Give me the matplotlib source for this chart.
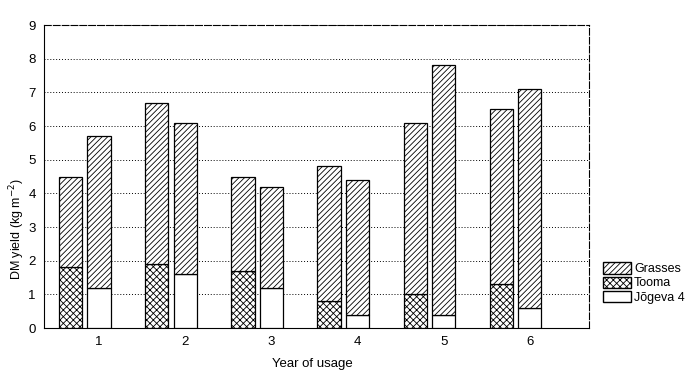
import numpy as np
import matplotlib.pyplot as plt
from matplotlib.patches import Patch

plt.rcParams['font.family'] = ['Liberation Sans', 'DejaVu Sans']
plt.rcParams['hatch.linewidth'] = 0.6

# === DATA ===
years = [1, 2, 3, 4, 5, 6]
tooma = [1.8, 1.9, 1.7, 0.8, 1.0, 1.3]          # bottom of left bars
tooma_total = [4.5, 6.7, 4.5, 4.8, 6.1, 6.5]    # left bar top (grasses on top)
jogeva = [1.2, 1.6, 1.2, 0.4, 0.4, 0.6]         # bottom of right bars
jogeva_total = [5.7, 6.1, 4.2, 4.4, 7.8, 7.1]   # right bar top

x = np.array(years, dtype=float)
grass_left = np.array(tooma_total) - np.array(tooma)
grass_right = np.array(jogeva_total) - np.array(jogeva)

fig = plt.figure(figsize=(7, 3.86), dpi=100)
ax = fig.add_axes([0.063, 0.150, 0.778, 0.785])

w = 0.27
# left bars: Tooma + grasses
ax.bar(x - 0.33, tooma, w, color='white', edgecolor='black', hatch='xxxxx', linewidth=0.9, zorder=3)
ax.bar(x - 0.33, grass_left, w, bottom=tooma, color='white', edgecolor='black', hatch='//////', linewidth=0.9, zorder=3)
# right bars: Jogeva 4 + grasses
ax.bar(x, jogeva, w, color='white', edgecolor='black', linewidth=0.9, zorder=3)
ax.bar(x, grass_right, w, bottom=jogeva, color='white', edgecolor='black', hatch='//////', linewidth=0.9, zorder=3)

ax.set_xlim(0.362, 6.684)
ax.set_ylim(0, 9)
ax.set_yticks(range(10))
ax.set_xticks(years)
ax.tick_params(axis='both', labelsize=9.5, length=0, pad=6)
ax.yaxis.grid(True, linestyle=(0, (1, 2)), color='black', linewidth=0.7, zorder=0)
for s in ax.spines.values():
    s.set_linewidth(0.8)
    s.set_linestyle((0, (6, 2)))
ax.spines['left'].set_linestyle('-')
ax.spines['bottom'].set_linestyle('-')

fig.text(312 / 700, 1 - 364 / 386, 'Year of usage', ha='center', va='center', fontsize=9.5)
fig.text(17 / 700, 1 - 229 / 386, 'DM yield (kg m$^{-2}$)', rotation=90, ha='center', va='center', fontsize=9)

handles = [
    Patch(facecolor='white', edgecolor='black', hatch='//////', label='Grasses'),
    Patch(facecolor='white', edgecolor='black', hatch='xxxxx', label='Tooma'),
    Patch(facecolor='white', edgecolor='black', label='Jõgeva 4'),
]
fig.legend(handles=handles, loc='center left', bbox_to_anchor=(0.853, 1 - 283 / 386),
           frameon=False, fontsize=9, handlelength=2.2, handleheight=1.0,
           handletextpad=0.25, labelspacing=0.1, borderpad=0)

plt.savefig('out.png', dpi=100)
